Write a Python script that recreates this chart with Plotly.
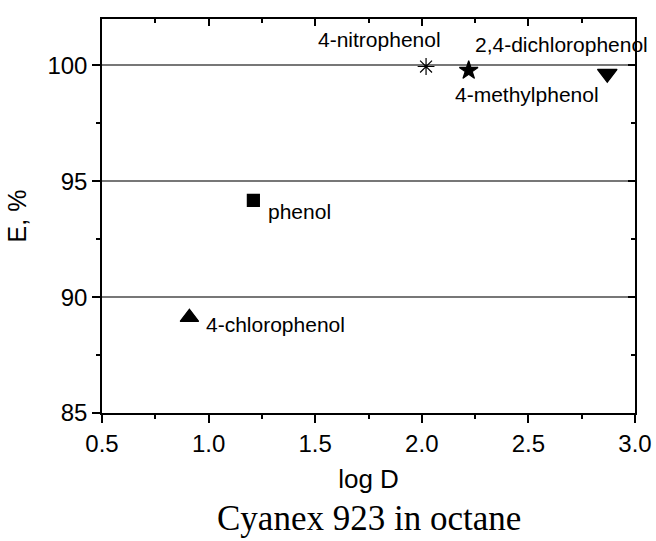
import plotly.graph_objects as go

# Extraction data for phenols (Cyanex 923 in octane)
compounds = ["4-nitrophenol", "4-methylphenol", "2,4-dichlorophenol", "phenol", "4-chlorophenol"]
log_d = [2.02, 2.22, 2.87, 1.21, 0.91]
extraction = [99.95, 99.78, 99.64, 94.17, 89.13]
symbols = ["asterisk-open", "star", "triangle-down", "square", "triangle-up"]
sizes = [14, 14, 17, 12, 16]
# label offsets in pixels (x, y) relative to each point
label_shift = [(-47, 27), (58, -24), (-46, 29), (46, -11), (86, -7)]

x_ticks = [0.5, 1.0, 1.5, 2.0, 2.5, 3.0]
y_ticks = [85, 90, 95, 100]

SANS = "Liberation Sans, Arial, sans-serif"
SERIF = "Liberation Serif, Times New Roman, serif"

fig = go.Figure()

for name, x, y, sym, sz in zip(compounds, log_d, extraction, symbols, sizes):
    fig.add_trace(go.Scatter(
        x=[x], y=[y], mode="markers", name=name,
        marker=dict(symbol=sym, size=sz, color="black",
                    line=dict(color="black", width=1.2)),
        cliponaxis=False,
    ))

for name, x, y, (dx, dy) in zip(compounds, log_d, extraction, label_shift):
    fig.add_annotation(x=x, y=y, text=name, showarrow=False,
                       xshift=dx, yshift=dy,
                       font=dict(family=SANS, size=21, color="black"))

axis_common = dict(
    showline=True, linecolor="black", linewidth=1.5,
    ticks="outside", tickcolor="black", tickwidth=1.5, ticklen=8,
    zeroline=False, automargin=False,
)

fig.update_xaxes(
    range=[0.5, 3.0], tickvals=x_ticks, ticktext=[f"{v:.1f}" for v in x_ticks],
    showgrid=False,
    minor=dict(ticks="outside", ticklen=4, tickwidth=1.5, tickcolor="black", dtick=0.25, tick0=0.5),
    title=dict(text="log D", font=dict(family=SANS, size=26, color="black"), standoff=14),
    tickfont=dict(family=SANS, size=24, color="black"),
    **axis_common,
)
fig.update_yaxes(
    range=[85, 102], tickvals=y_ticks, ticktext=[str(v) for v in y_ticks],
    showgrid=True, gridcolor="#777777", gridwidth=1.5,
    minor=dict(ticks="outside", ticklen=4, tickwidth=1.5, tickcolor="black", dtick=2.5, tick0=85),
    title=dict(text="E, %", font=dict(family=SANS, size=25, color="black"), standoff=14),
    tickfont=dict(family=SANS, size=24, color="black"),
    **axis_common,
)

# top and right frame with inward ticks
fig.update_layout(
    xaxis2=dict(overlaying="x", side="top", matches="x", range=[0.5, 3.0],
                tickvals=x_ticks, showticklabels=False, showgrid=False, zeroline=False,
                showline=True, linecolor="black", linewidth=1.5, automargin=False,
                ticks="inside", ticklen=7, tickwidth=1.5, tickcolor="black",
                minor=dict(ticks="inside", ticklen=4, tickwidth=1.5, tickcolor="black",
                           dtick=0.25, tick0=0.5)),
    yaxis2=dict(overlaying="y", side="right", matches="y", range=[85, 102],
                tickvals=y_ticks, showticklabels=False, showgrid=False, zeroline=False,
                showline=True, linecolor="black", linewidth=1.5, automargin=False,
                ticks="inside", ticklen=7, tickwidth=1.5, tickcolor="black",
                minor=dict(ticks="inside", ticklen=4, tickwidth=1.5, tickcolor="black",
                           dtick=2.5, tick0=85)),
)
fig.add_trace(go.Scatter(x=[None], y=[None], xaxis="x2", yaxis="y2",
                         showlegend=False, hoverinfo="skip"))

fig.add_annotation(text="Cyanex 923 in octane", xref="paper", yref="paper",
                   x=0.5, y=-0.268, xanchor="center", yanchor="middle",
                   showarrow=False,
                   font=dict(family=SERIF, size=35, color="black"))

fig.update_layout(
    width=656, height=541,
    margin=dict(l=102, r=21, t=19, b=128),
    paper_bgcolor="white", plot_bgcolor="white",
    showlegend=False,
)

fig.write_html("out.html")
